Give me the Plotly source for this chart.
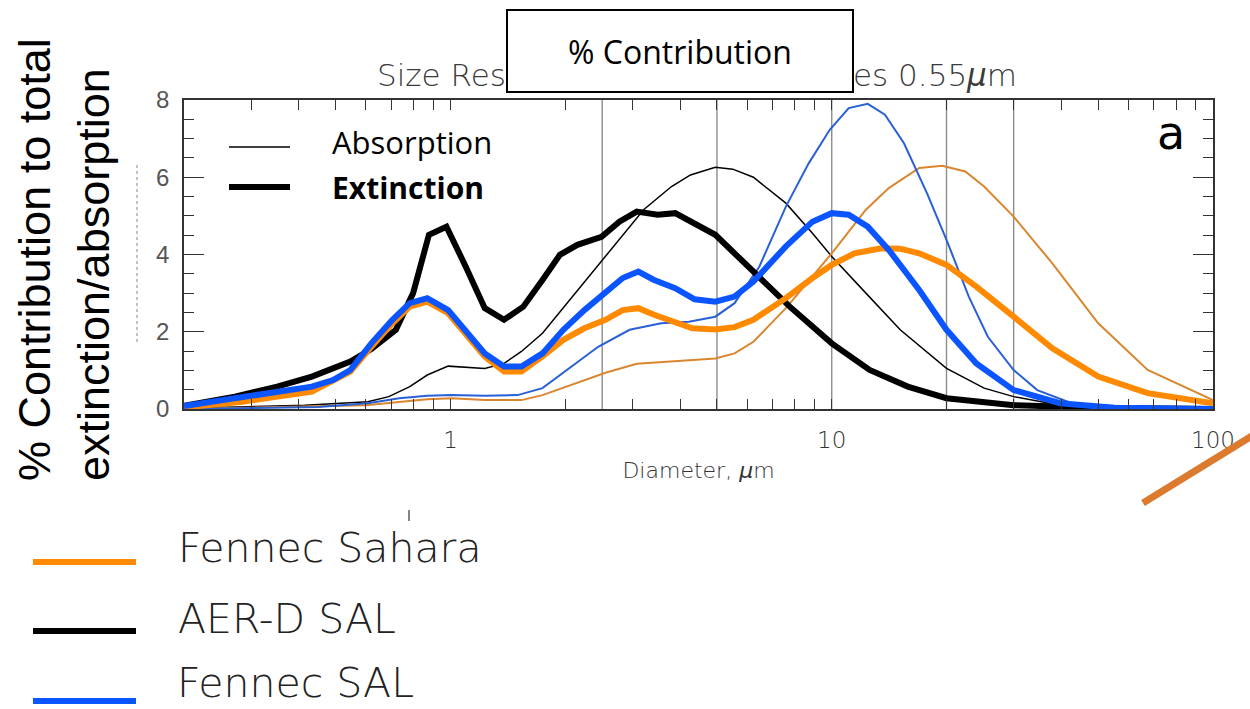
import math
import plotly.graph_objects as go

# ---------------- data ----------------
# AER-D SAL (black)
aer_ext_d = [0.2, 0.272, 0.351, 0.433, 0.546, 0.62, 0.719, 0.798, 0.878, 0.976, 1.096, 1.23, 1.382, 1.552,
             1.743, 1.936, 2.152, 2.49, 2.773, 3.08, 3.494, 3.885, 4.95, 6.17, 7.76, 10.0, 12.57, 15.83,
             20.0, 30.0, 50.0, 100.0]
aer_ext = [0.08, 0.32, 0.58, 0.84, 1.23, 1.55, 2.05, 3.0, 4.51, 4.72, 3.69, 2.61, 2.31, 2.65,
           3.34, 3.99, 4.25, 4.46, 4.85, 5.11, 5.03, 5.07, 4.51, 3.60, 2.65, 1.70, 1.01, 0.58,
           0.28, 0.10, 0.03, 0.0]

aer_abs_d = [0.2, 0.415, 0.607, 0.689, 0.782, 0.869, 0.986, 1.23, 1.382, 1.535, 1.743, 2.02, 2.55, 3.21,
             3.80, 4.26, 4.95, 5.50, 6.23, 7.58, 8.9, 10.0, 12.29, 15.12, 20.0, 25.1, 30.0, 39.7, 60.0, 100.0]
aer_abs = [0.02, 0.10, 0.19, 0.32, 0.58, 0.88, 1.11, 1.05, 1.18, 1.49, 1.96, 2.74, 3.95, 5.16,
           5.76, 6.06, 6.26, 6.21, 6.0, 5.33, 4.55, 3.95, 3.0, 2.05, 1.05, 0.54, 0.32, 0.10, 0.02, 0.0]

# Fennec SAL (blue)
fsal_ext_d = [0.2, 0.256, 0.336, 0.433, 0.492, 0.546, 0.62, 0.704, 0.782, 0.869, 0.986, 1.096, 1.23, 1.382,
              1.535, 1.743, 1.977, 2.245, 2.55, 2.83, 3.11, 3.42, 3.885, 4.37, 4.95, 5.56, 6.23, 7.58,
              8.9, 10.0, 11.08, 12.43, 14.11, 16.96, 20.0, 23.95, 30.0, 39.7, 55.0, 100.0]
fsal_ext = [0.08, 0.23, 0.41, 0.58, 0.75, 1.01, 1.70, 2.31, 2.74, 2.87, 2.56, 2.05, 1.44, 1.10,
            1.10, 1.44, 2.05, 2.56, 3.0, 3.39, 3.56, 3.34, 3.13, 2.84, 2.78, 2.91, 3.30, 4.21,
            4.85, 5.07, 5.03, 4.72, 4.12, 3.08, 2.05, 1.18, 0.49, 0.15, 0.03, 0.0]

fsal_abs_d = [0.2, 0.45, 0.607, 0.734, 0.869, 1.007, 1.23, 1.50, 1.743, 2.02, 2.44, 2.95, 3.57, 4.22,
              4.95, 5.56, 6.46, 7.58, 8.7, 9.88, 11.08, 12.43, 13.79, 15.47, 17.77, 20.0, 22.88, 25.67,
              30.0, 34.6, 42.6, 60.0, 100.0]
fsal_abs = [0.0, 0.05, 0.15, 0.28, 0.34, 0.36, 0.34, 0.36, 0.54, 1.01, 1.61, 2.05, 2.22, 2.26,
            2.39, 2.74, 3.69, 5.24, 6.36, 7.23, 7.79, 7.90, 7.62, 6.88, 5.59, 4.38, 2.91, 1.87,
            1.01, 0.49, 0.15, 0.02, 0.0]

# Fennec Sahara (orange)
fsah_ext_d = [0.2, 0.284, 0.433, 0.546, 0.62, 0.704, 0.782, 0.869, 0.986, 1.096, 1.23, 1.382, 1.535, 1.743,
              1.977, 2.245, 2.55, 2.83, 3.11, 3.42, 3.885, 4.31, 4.95, 5.56, 6.23, 7.58, 8.9, 10.0,
              11.47, 13.48, 15.12, 16.96, 20.0, 23.95, 30.0, 37.9, 50.0, 67.4, 100.0]
fsah_ext = [0.04, 0.19, 0.45, 0.97, 1.61, 2.22, 2.65, 2.78, 2.48, 1.96, 1.36, 0.97, 0.97, 1.36,
            1.79, 2.09, 2.31, 2.56, 2.61, 2.44, 2.26, 2.09, 2.06, 2.12, 2.31, 2.87, 3.39, 3.73,
            4.03, 4.16, 4.15, 4.03, 3.73, 3.17, 2.39, 1.57, 0.84, 0.41, 0.15]

fsah_abs_d = [0.2, 0.6, 0.869, 1.007, 1.23, 1.535, 1.743, 2.02, 2.55, 3.08, 3.80, 4.95, 5.56, 6.23,
              7.58, 8.9, 10.0, 12.29, 14.11, 16.96, 19.5, 22.4, 25.1, 30.0, 37.9, 50.0, 67.4, 100.0]
fsah_abs = [0.0, 0.10, 0.25, 0.28, 0.23, 0.23, 0.36, 0.58, 0.94, 1.17, 1.23, 1.31, 1.44, 1.74,
            2.61, 3.43, 4.03, 5.16, 5.72, 6.24, 6.30, 6.15, 5.76, 4.98, 3.77, 2.22, 1.01, 0.23]

grid_diameters = [2.5, 5, 10, 20, 30]
x_range = [0.2, 100]
y_range = [0, 8]
x_major = [1, 10, 100]
x_labels = ["1", "10", "100"]
x_minor = [0.2, 0.3, 0.4, 0.5, 0.6, 0.7, 0.8, 0.9, 2, 3, 4, 5, 6, 7, 8, 9, 20, 30, 40, 50, 60, 70, 80, 90]
y_major = [0, 2, 4, 6, 8]

legend_names = ["Fennec Sahara", "AER-D SAL", "Fennec SAL"]

# ---------------- styling ----------------
W, H = 1250, 709
L, R, T, B = 184, 1213, 100, 409  # plot area in pixels

C_BLACK = "#000000"
C_BLUE_THICK = "#0a55ff"
C_BLUE_THIN = "#2a60d6"
C_OR_THICK = "#ff8a00"
C_OR_THIN = "#d9862f"

HERSHEY = "DejaVu Sans"
AXFONT = "Liberation Sans, Arial, sans-serif"
CALIBRI = "Open Sans, Lato, sans-serif"


def px(xp):
    return (xp - L) / (R - L)


def py(yp):
    return (B - yp) / (B - T)


fig = go.Figure()

for g in grid_diameters:
    fig.add_trace(go.Scatter(x=[g, g], y=y_range, mode="lines",
                             line=dict(color="#8c8c8c", width=1.4),
                             hoverinfo="skip", showlegend=False))

series = [
    (aer_abs_d, aer_abs, C_BLACK, 1.5),
    (fsah_abs_d, fsah_abs, C_OR_THIN, 2),
    (fsal_abs_d, fsal_abs, C_BLUE_THIN, 2),
    (aer_ext_d, aer_ext, C_BLACK, 6),
    (fsah_ext_d, fsah_ext, C_OR_THICK, 6),
    (fsal_ext_d, fsal_ext, C_BLUE_THICK, 6),
]
for xd, yd, col, w in series:
    fig.add_trace(go.Scatter(x=xd, y=yd, mode="lines",
                             line=dict(color=col, width=w, shape="linear"),
                             showlegend=False, hoverinfo="skip"))

fig.update_layout(
    width=W, height=H, autosize=False,
    margin=dict(l=L, r=W - R, t=T, b=H - B, pad=0),
    paper_bgcolor="white", plot_bgcolor="white",
    showlegend=False,
)

fig.update_xaxes(
    type="log", range=[math.log10(x_range[0]), math.log10(x_range[1])],
    tickmode="array", tickvals=x_major, ticktext=x_labels,
    ticks="inside", ticklen=10, tickwidth=1.2, tickcolor="#333",
    showline=True, linecolor="#333", linewidth=1.5, mirror="allticks",
    showgrid=False, zeroline=False,
    minor=dict(tickmode="array", tickvals=x_minor, ticks="inside", ticklen=10,
               tickwidth=1.2, tickcolor="#333", showgrid=False),
    tickfont=dict(family=HERSHEY, size=23, color="#333", weight=200),
    ticklabelstandoff=10,
    title=dict(text="Diameter, <i>μ</i>m", standoff=10,
               font=dict(family=HERSHEY, size=22, color="#333", weight=200)),
)
fig.update_yaxes(
    range=y_range, tickmode="array", tickvals=y_major,
    ticks="inside", ticklen=20, tickwidth=1.2, tickcolor="#333",
    showline=True, linecolor="#333", linewidth=1.5, mirror="allticks",
    showgrid=False, zeroline=False,
    minor=dict(dtick=0.5, ticks="inside", ticklen=10, tickwidth=1.2, tickcolor="#333", showgrid=False),
    tickfont=dict(family=AXFONT, size=24, color="#555"),
    ticklabelstandoff=8,
)

ann = []
# chart title pieces (middle is hidden by the box)
ann.append(dict(text="Size Res", x=px(375), y=py(75), xref="paper", yref="paper",
                xanchor="left", yanchor="middle", showarrow=False,
                font=dict(family=HERSHEY, size=31, color="#3a3a3a", weight=200)))
ann.append(dict(text="es 0.55<i>μ</i>m", x=px(1019), y=py(75), xref="paper", yref="paper",
                xanchor="right", yanchor="middle", showarrow=False,
                font=dict(family=HERSHEY, size=31, color="#3a3a3a", weight=200)))
# boxed heading
ann.append(dict(text="% Contribution", x=px(680), y=py(51), xref="paper", yref="paper",
                xanchor="center", yanchor="middle", showarrow=False,
                width=342, height=78, bgcolor="white", bordercolor="black", borderwidth=2,
                font=dict(family=CALIBRI, size=32, color="black")))
# big y title
ann.append(dict(text="% Contribution to total<br>extinction/absorption", x=px(64), y=py(260),
                xref="paper", yref="paper", xanchor="center", yanchor="middle",
                textangle=-90, align="left", showarrow=False,
                font=dict(family=AXFONT, size=45, color="black")))
# panel letter
ann.append(dict(text="a", x=px(1171), y=py(133), xref="paper", yref="paper",
                xanchor="center", yanchor="middle", showarrow=False,
                font=dict(family=HERSHEY, size=46, color="black", weight=400)))
# inset legend
ann.append(dict(text="Absorption", x=px(330), y=py(142), xref="paper", yref="paper",
                xanchor="left", yanchor="middle", showarrow=False,
                font=dict(family=CALIBRI, size=31, color="black")))
ann.append(dict(text="<b>Extinction</b>", x=px(330), y=py(187), xref="paper", yref="paper",
                xanchor="left", yanchor="middle", showarrow=False,
                font=dict(family=CALIBRI, size=30, color="black")))
# bottom legend
leg_y_text = [548, 619, 684]
leg_y_line = [562, 631, 701]
leg_cols = [C_OR_THICK, C_BLACK, C_BLUE_THICK]
for i, (name, yt) in enumerate(zip(legend_names, leg_y_text)):
    if i == len(legend_names) - 1:
        ann.append(dict(text=name, x=px(176), y=py(H - 1), xref="paper", yref="paper",
                        xanchor="left", yanchor="bottom", showarrow=False, borderpad=0,
                        font=dict(family=HERSHEY, size=41, color="#222", weight=200)))
    else:
        ann.append(dict(text=name, x=px(176), y=py(yt), xref="paper", yref="paper",
                        xanchor="left", yanchor="middle", showarrow=False,
                        font=dict(family=HERSHEY, size=41, color="#222", weight=200)))
fig.update_layout(annotations=ann)

shapes = []
shapes.append(dict(type="line", xref="paper", yref="paper", x0=px(229), x1=px(290), y0=py(147), y1=py(147),
                   line=dict(color="black", width=1.5)))
shapes.append(dict(type="line", xref="paper", yref="paper", x0=px(229), x1=px(290), y0=py(187), y1=py(187),
                   line=dict(color="black", width=6)))
for yl, col in zip(leg_y_line, leg_cols):
    shapes.append(dict(type="line", xref="paper", yref="paper", x0=px(33), x1=px(136), y0=py(yl), y1=py(yl),
                       line=dict(color=col, width=6)))
# decorative diagonal stroke and small mark
shapes.append(dict(type="line", xref="paper", yref="paper", x0=px(1143), x1=px(1252), y0=py(503), y1=py(436),
                   line=dict(color="#dc7a2e", width=7)))
shapes.append(dict(type="line", xref="paper", yref="paper", x0=px(409), x1=px(409), y0=py(510), y1=py(521),
                   line=dict(color="#333", width=1.2)))
shapes.append(dict(type="line", xref="paper", yref="paper", x0=px(137), x1=px(137), y0=py(165), y1=py(345),
                   line=dict(color="#999", width=1.2, dash="dot")))
fig.update_layout(shapes=shapes)

fig.write_html("out.html", config={"displayModeBar": False},
               post_script="document.body.style.margin='0';document.body.style.overflow='hidden';")
